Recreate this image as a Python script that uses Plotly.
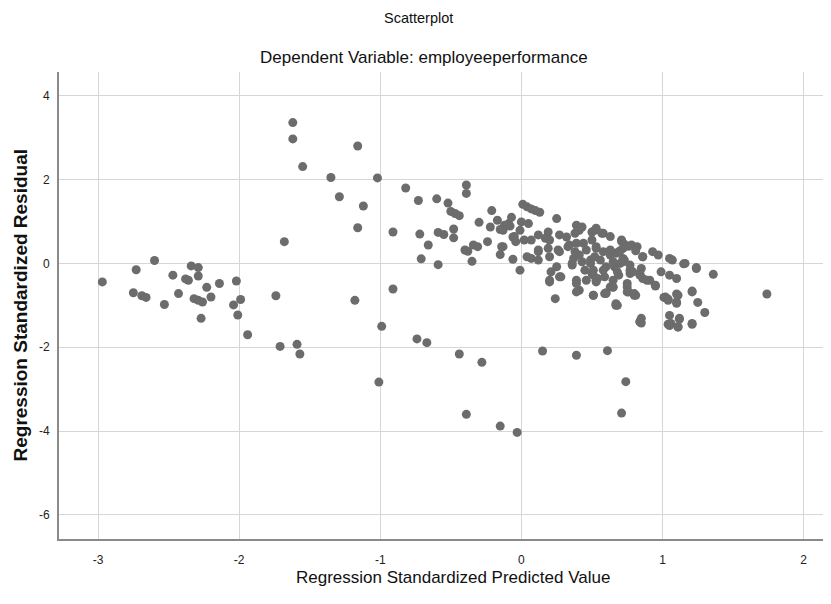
import plotly.graph_objects as go

# Regression Standardized Predicted Value (x) / Regression Standardized Residual (y)
pred_left = [-2.97, -2.73, -2.60, -2.47, -2.34, -2.29, -2.29, -2.38, -2.36, -2.14, -2.02, -2.23,
             -2.20, -1.99, -2.04, -2.43, -2.53, -2.75, -2.69, -2.66, -2.32, -2.29, -2.26, -1.74,
             -1.68, -1.62, -1.62, -1.55, -2.27, -2.01, -1.94, -1.71, -1.59, -1.57]
resid_left = [-0.44, -0.15, 0.07, -0.28, -0.06, -0.10, -0.30, -0.37, -0.40, -0.48, -0.42, -0.57,
              -0.80, -0.86, -0.99, -0.72, -0.98, -0.70, -0.77, -0.81, -0.84, -0.88, -0.92, -0.77,
              0.52, 3.36, 2.97, 2.31, -1.31, -1.23, -1.70, -1.98, -1.93, -2.16]

pred_mid = [-1.16, -1.35, -1.02, -1.29, -1.12, -1.16, -0.91, -0.82, -0.73, -0.60, -0.52, -0.50,
            -0.47, -0.44, -0.39, -0.39, -0.72, -0.66, -0.59, -0.55, -0.48, -0.48, -0.71, -0.59,
            -0.40, -0.38, -0.34, -0.31, -0.35, -0.30, -0.24, -0.21, -0.22, -0.17, -0.15, -0.12,
            -0.07, -0.08, -0.13, -0.15, -0.06, -0.01, -0.05, 0.00, -0.91, -1.18,
            -0.13, -0.09, 0.05, -0.01, -0.06, -0.04, 0.02, 0.07, -0.14, 0.04, 0.07, 0.12, 0.12]
resid_mid = [2.80, 2.05, 2.04, 1.59, 1.37, 0.85, 0.75, 1.80, 1.50, 1.54, 1.44, 1.24,
             1.19, 1.14, 1.87, 1.67, 0.70, 0.44, 0.74, 0.69, 0.82, 0.61, 0.11, -0.03,
             0.32, 0.29, 0.44, 0.40, 0.05, 0.98, 0.52, 1.26, 0.87, 1.03, 0.81, 0.91,
             1.10, 0.89, 0.40, 0.21, 0.10, -0.16, 0.64, 0.99, -0.61, -0.88,
             0.79, 0.95, 0.95, 0.79, 0.63, 0.52, 0.56, 0.56, 0.40, 0.16, 0.12, 0.28, 0.08]

pred_band = [0.01, 0.04, 0.07, 0.10, 0.13]
resid_band = [1.41, 1.35, 1.30, 1.26, 1.22]

pred_low = [-0.99, -0.74, -0.67, -0.44, -0.28, -1.01, -0.39, -0.15, -0.03, 0.15, 0.39, 0.61,
            0.74, 0.71, 0.85, 1.04, 1.11, 1.21, 1.74]
resid_low = [-1.50, -1.80, -1.89, -2.16, -2.36, -2.83, -3.60, -3.88, -4.03, -2.09, -2.19, -2.08,
             -2.82, -3.57, -1.42, -1.45, -1.52, -1.45, -0.73]

pred_core = [0.19, 0.25, 0.17, 0.19, 0.20, 0.27, 0.27, 0.32, 0.34, 0.39, 0.41, 0.38, 0.39, 0.38,
             0.37, 0.36, 0.41, 0.43, 0.46, 0.45, 0.49, 0.50, 0.50, 0.25, 0.27, 0.21, 0.20, 0.24,
             0.39, 0.41, 0.39, 0.51, 0.53,
             0.12, 0.12, 0.20, 0.26, 0.33, 0.43, 0.44, 0.28, 0.20, 0.39, 0.36,
             0.50, 0.53, 0.58, 0.53, 0.49, 0.51, 0.60, 0.46, 0.54]
resid_core = [0.75, 1.07, 0.60, 0.36, 0.16, 0.68, 0.28, 0.63, 0.44, 0.91, 0.79, 0.72, 0.48, 0.28,
              0.12, -0.04, 0.20, 0.04, 0.32, -0.16, 0.00, 0.56, -0.24, -0.08, -0.32, -0.20, -0.44, -0.84,
              -0.40, -0.64, -0.68, -0.76, -0.40,
              0.68, 0.32, 0.56, 0.32, 0.40, 0.87, 0.48, -0.32, -0.40, -0.48, 0.00,
              0.75, 0.84, 0.72, 0.36, 0.08, -0.16, -0.72, -0.40, -0.36]

pred_right = [0.71, 0.78, 0.82, 0.86, 0.67, 0.72, 0.66, 0.69, 0.65, 0.67, 0.75, 0.80, 0.77, 0.84,
              0.89, 0.63, 0.56, 0.60, 0.85,
              0.52, 0.57, 0.63, 0.71, 0.93, 0.97, 1.05, 1.16, 1.24, 1.36,
              0.53, 0.52, 0.58, 0.63, 0.69, 0.72, 0.65, 0.72, 0.77, 0.86, 0.85, 0.77, 0.84, 0.91,
              0.95, 0.99, 1.05, 1.10,
              0.51, 0.53, 0.59, 0.65, 0.63, 0.51, 0.59, 0.75, 0.80, 0.76, 0.67, 0.84, 1.02, 1.04,
              1.11, 1.10, 1.21, 1.25, 1.30, 1.05, 1.06, 1.12, 1.21, 1.11, 1.05,
              1.24, 1.15, 1.21, 1.12, 1.10, 1.10, 1.01, 1.04, 0.84, 0.68, 0.60, 0.81, 0.75, 0.65,
              0.70, 0.81, 0.73, 0.76, 0.70, 0.73, 0.68, 0.79, 0.86, 0.95, 0.58, 1.07]
resid_right = [0.53, 0.44, 0.40, 0.16, 0.24, 0.04, -0.08, -0.28, -0.56, -0.96, -0.48, -0.72, -0.16, -0.24,
               -0.40, 0.32, 0.08, -0.08, -1.31,
               0.79, 0.72, 0.64, 0.56, 0.28, 0.20, 0.12, 0.00, -0.10, -0.26,
               0.40, 0.16, 0.28, 0.20, 0.28, 0.36, 0.04, 0.12, -0.04, 0.16, -0.12, -0.24, -0.28, -0.40,
               -0.52, -0.20, -0.28, -0.36,
               -0.28, -0.44, -0.32, -0.40, -0.56, -0.76, -0.72, -0.56, -0.76, -0.68, -1.00, -1.39, -0.80, -0.88,
               -0.76, -0.95, -0.68, -0.93, -1.17, -1.24, -1.43, -1.31, -1.43, -1.51, -1.48,
               -0.12, -0.01, -0.66, -1.33, -0.73, -0.92, -0.81, -0.85, -1.39, -1.00, -0.70, -0.76, -0.68, -0.57,
               0.30, 0.30, 0.46, 0.41, 0.00, 0.08, -0.20, -0.20, -0.36, -0.54, -0.16, 0.08]

predicted = pred_left + pred_mid + pred_band + pred_low + pred_core + pred_right
residual = resid_left + resid_mid + resid_band + resid_low + resid_core + resid_right

x_ticks = [-3, -2, -1, 0, 1, 2]
y_ticks = [-6, -4, -2, 0, 2, 4]

title_main = "Scatterplot"
title_sub = "Dependent Variable: employeeperformance"
x_title = "Regression Standardized Predicted Value"
y_title = "Regression Standardized Residual"

FONT = "Liberation Sans, Arial, sans-serif"

# plot area: 780 px wide; keep 141.1 px per unit on x
x_lo = -3.277
x_hi = x_lo + 780 / 141.1

fig = go.Figure()
fig.add_trace(go.Scatter(
    x=predicted, y=residual, mode="markers",
    marker=dict(color="#6c6c6c", size=9, line=dict(width=0)),
    hoverinfo="x+y", showlegend=False,
))

fig.update_layout(
    width=831, height=604,
    margin=dict(l=51, r=0, t=64, b=73),
    paper_bgcolor="white", plot_bgcolor="white",
    font=dict(family=FONT, color="#222222"),
    xaxis=dict(
        range=[x_lo, x_hi], tickvals=x_ticks, ticktext=[str(v) for v in x_ticks],
        showgrid=True, gridcolor="#d6d6d6", gridwidth=1, zeroline=False,
        showline=True, linecolor="#8a8a8a", linewidth=2,
        ticks="", ticklabelstandoff=9, tickfont=dict(size=12, color="#222222"),
    ),
    yaxis=dict(
        range=[-6.573, 4.566], tickvals=y_ticks, ticktext=[str(v) for v in y_ticks],
        showgrid=True, gridcolor="#d6d6d6", gridwidth=1, zeroline=False,
        showline=True, linecolor="#8a8a8a", linewidth=2,
        ticks="", ticklabelstandoff=5, tickfont=dict(size=12, color="#222222"),
    ),
    annotations=[
        dict(text=title_main, xref="paper", yref="paper", x=(418 - 59) / 780, y=1.1156,
             xanchor="center", yanchor="middle", showarrow=False,
             font=dict(family=FONT, size=14.5, color="#111111")),
        dict(text=title_sub, xref="paper", yref="paper", x=(424 - 59) / 780, y=1.032,
             xanchor="center", yanchor="middle", showarrow=False,
             font=dict(family=FONT, size=17, color="#111111")),
        dict(text=x_title, xref="paper", yref="paper", x=(453 - 59) / 780, y=-0.0814,
             xanchor="center", yanchor="middle", showarrow=False,
             font=dict(family=FONT, size=17, color="#111111")),
        dict(text="<b>" + y_title + "</b>", xref="paper", yref="paper", x=(20 - 59) / 780, y=0.5,
             xanchor="center", yanchor="middle", showarrow=False, textangle=-90,
             font=dict(family=FONT, size=19, color="#111111")),
    ],
)

fig.write_html("out.html")
